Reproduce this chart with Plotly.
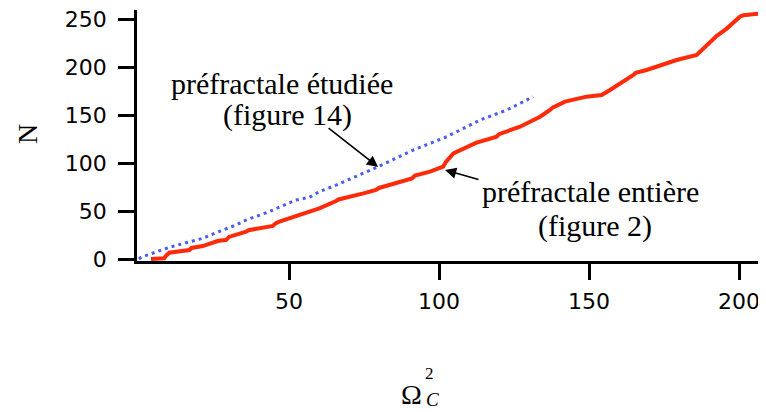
import plotly.graph_objects as go

# Red curve: préfractale entière (figure 2)
red_x = [4, 8.4, 9.2, 10.1, 16.8, 17.5, 21.2, 25.7, 26.5, 29, 30, 35.7, 36.5, 44.6, 45.5,
         46.8, 54.6, 55.5, 60.1, 65.7, 66.5, 74.8, 79, 80, 85.9, 91, 92, 97, 101.4, 102.3,
         104.8, 111.4, 112.3, 119.2, 120, 127, 133.7, 137, 138, 142, 149.2,
         154.2, 157, 164.8, 165.6, 169.2, 174.8, 175.6, 179.2, 185.9, 188.1, 192.6,
         195.9, 200.3, 201.5, 208]
red_n = [0, 0.7, 4, 6.6, 9.4, 11.5, 13.5, 18, 19, 19.8, 23, 28.5, 30, 34.4, 37,
         38.9, 46.5, 48, 52.8, 60.4, 62, 68.4, 72, 74, 78.8, 84, 87, 91, 96.2, 101,
         110, 118.8, 121, 127.4, 130, 137.8, 148.2, 155.2, 158, 163.9, 169.1,
         170.8, 176, 191.7, 194, 196.9, 202.5, 204, 207.3, 212.5, 219.5, 232.5,
         240, 252.4, 254, 256]

# Blue dotted curve: préfractale étudiée (figure 14)
blue_x = [0, 0.7, 10.1, 21.2, 25.7, 32.3, 35.7, 43.4, 52.3, 56.8, 60.1, 65.7,
          79.8, 91.4, 102.6, 113.7, 122.6, 131.4]
blue_n = [0, 1.8, 12.2, 21.5, 27.4, 35.4, 40.6, 49.3, 61.5, 64.2, 70.1, 77,
          96.2, 113.5, 127.4, 144.8, 155.2, 169]

x_ticks = [50, 100, 150, 200]
y_ticks = [0, 50, 100, 150, 200, 250]

SERIF = "Liberation Serif, Times New Roman, serif"
SANS = "DejaVu Sans, sans-serif"

fig = go.Figure()
fig.add_trace(go.Scatter(x=blue_x, y=blue_n, mode="lines",
                         line=dict(color="#4a5cf2", width=3, dash="3px,4px"),
                         showlegend=False))
fig.add_trace(go.Scatter(x=red_x, y=red_n, mode="lines",
                         line=dict(color="#ff2a0a", width=4),
                         showlegend=False))

# page body has an 8px margin: compensate
OFF = 8
W, H = 766, 412
L, R, T, B = 137 - OFF, 0, 10 - OFF, H - (261 - OFF)
PW, PH = W - L - R, H - T - B

def px(xs):
    return (xs - OFF - L) / PW

def py(ys):
    return (H - B - (ys - OFF)) / PH

ann = []
def txt(t, x, y, size, **kw):
    ann.append(dict(text=t, x=px(x), y=py(y), xref="paper", yref="paper",
                    showarrow=False, xanchor="center", yanchor="middle",
                    font=dict(family=SERIF, size=size, color="black"), **kw))

txt("préfractale étudiée", 282, 84, 30)
txt("(figure 14)", 287, 115, 30)
txt("préfractale entière", 590, 191, 30)
txt("(figure 2)", 595, 226, 30)
txt("N", 27, 134, 28, textangle=-90)
txt("Ω", 411, 394, 28)
txt("2", 429, 373, 17)
txt("<i>C</i>", 432, 399, 19)

ann.append(dict(x=79.7, y=95.8, xref="x", yref="y", text="", showarrow=True,
                ax=-51, ay=-40, arrowhead=2, arrowsize=1.4, arrowwidth=1.6,
                arrowcolor="black"))
ann.append(dict(x=102, y=92.7, xref="x", yref="y", text="", showarrow=True,
                ax=35, ay=10, arrowhead=2, arrowsize=1.4, arrowwidth=1.6,
                arrowcolor="black"))

# x: value 0 at screen px 139, 3 px per unit
x0 = (137 - 139) / 3.0
x1 = x0 + PW / 3.0
# y: value 0 at screen py 259, 0.96 px per unit
y0 = -(261 - 259) / 0.96
y1 = y0 + PH / 0.96

fig.update_layout(
    width=W, height=H,
    margin=dict(l=L, r=R, t=T, b=B, autoexpand=False),
    plot_bgcolor="white", paper_bgcolor="white",
    annotations=ann,
    xaxis=dict(range=[x0, x1], tickvals=x_ticks, ticktext=[str(v) for v in x_ticks],
               showgrid=False, zeroline=False, showline=True, linecolor="black",
               linewidth=2.5, ticks="outside", ticklen=16, tickwidth=2.5,
               tickcolor="black", ticklabelstandoff=3, ticklabeloverflow="allow",
               tickfont=dict(family=SANS, size=22, color="black")),
    yaxis=dict(range=[y0, y1], tickvals=y_ticks, ticktext=[str(v) for v in y_ticks],
               showgrid=False, zeroline=False, showline=True, linecolor="black",
               linewidth=2.5, ticks="outside", ticklen=16, tickwidth=2.5,
               tickcolor="black", ticklabelstandoff=7, ticklabeloverflow="allow",
               tickfont=dict(family=SANS, size=22, color="black")),
)

fig.write_html("out.html")
